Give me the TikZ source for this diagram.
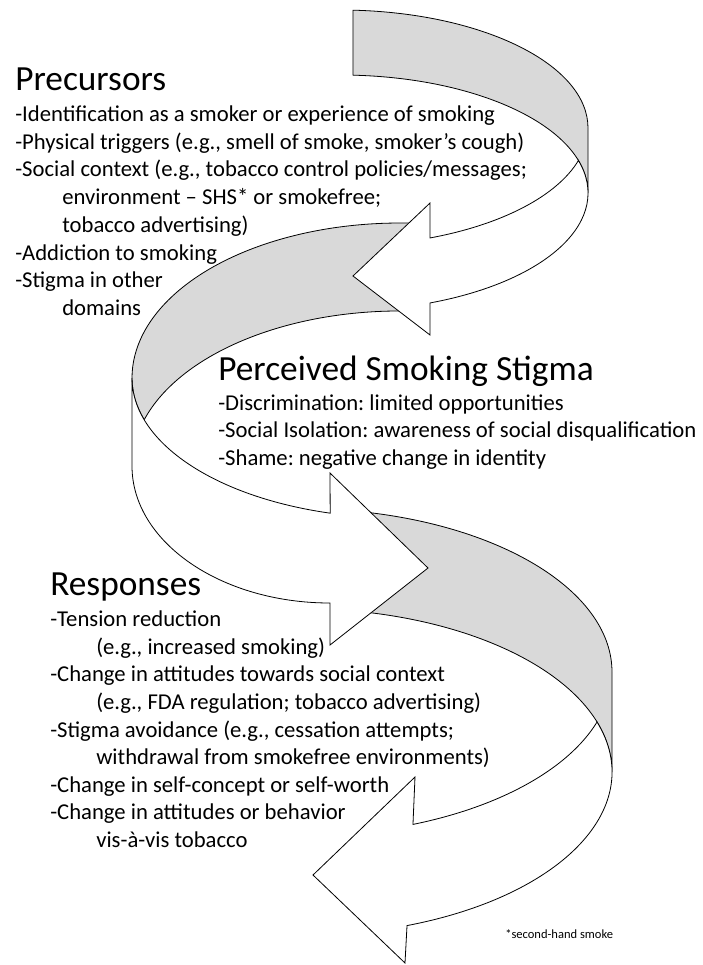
\documentclass[tikz,border=0pt]{standalone}
\usepackage{fontspec}
\setmainfont{Carlito}
\usetikzlibrary{calc}
\definecolor{backgray}{RGB}{217,217,217}
\frenchspacing
\begin{document}
\frenchspacing
\begin{tikzpicture}[x=0.75pt,y=-0.75pt,
  back/.style={fill=backgray,draw=black,line width=0.6pt,line join=round},
  front/.style={fill=white,draw=black,line width=0.6pt,line join=miter},
  head/.style={anchor=base west,inner sep=0pt,font=\fontsize{26.5}{30}\selectfont},
  body/.style={anchor=base west,inner sep=0pt,font=\fontsize{17}{20}\selectfont},
  note/.style={anchor=base west,inner sep=0pt,font=\fontsize{9.4}{11}\selectfont}]
\fill[white] (0,0) rectangle (703,965);
\useasboundingbox (0,0) rectangle (703,965);
% ellipse centres
\coordinate (o1t) at (340,128);
\coordinate (o1b) at (340,193);
\coordinate (o2t) at (400,378);
\coordinate (o2b) at (400,466);
\coordinate (o3t) at (300,672);
\coordinate (o3b) at (300,772);
% back (grey) parts
\filldraw[back] ($(o2t)+(-86.79:268 and 155)$) arc[start angle=-86.79,end angle=-180,x radius=268,y radius=155]
  arc[start angle=180,end angle=162.65,x radius=268,y radius=140]
  arc[start angle=-162.65,end angle=-86.79,x radius=268,y radius=155] -- cycle;
\filldraw[back] ($(o3t)+(-77.98:312 and 163.5)$) arc[start angle=-77.98,end angle=0,x radius=312,y radius=163.5]
  -- ($(o3b)+(0:312 and 163.5)$) arc[start angle=0,end angle=-77.98,x radius=312,y radius=163.5] -- cycle;
\filldraw[back] ($(o1t)+(-87:248 and 118)$) arc[start angle=-87,end angle=0,x radius=248,y radius=118]
  -- ($(o1b)+(0:248 and 118)$) arc[start angle=0,end angle=-87,x radius=248,y radius=118] -- cycle;
% front (white) parts with arrow heads
\filldraw[front] ($(o1t)+(16:248 and 118)$) arc[start angle=16,end angle=68.72,x radius=248,y radius=118]
  -- (430,203) -- (353,276) -- (430,335)
  -- ($(o1b)+(68.72:248 and 118)$) arc[start angle=68.72,end angle=-16,x radius=248,y radius=118] -- cycle;
\filldraw[front] ($(o2t)+(180:268 and 140)$) arc[start angle=180,end angle=105.1,x radius=268,y radius=140]
  -- (330,473) -- (428,568) -- (330,645) -- (330,603)
  arc[start angle=90,end angle=180,x radius=198,y radius=137] -- cycle;
\filldraw[front] ($(o3t)+(17.81:312 and 163.5)$) arc[start angle=17.81,end angle=68.77,x radius=312,y radius=163.5]
  -- (415,777) -- (313,875) -- (405,963)
  -- ($(o3b)+(69.94:312 and 163.5)$) arc[start angle=69.94,end angle=-17.81,x radius=312,y radius=163.5] -- cycle;
% Precursors
\node[head] (preh) at (15,90) {Precursors};
\node[body] (pre1) at (15,121.5) {-Identification as a smoker or experience of smoking};
\node[body] (pre2) at (15,149.2) {-Physical triggers (e.g., smell of smoke, smoker’s cough)};
\node[body] (pre3) at (15,176.9) {-Social context (e.g., tobacco control policies/messages;};
\node[body] (pre4) at (62,204.6) {environment – SHS* or smokefree;};
\node[body] (pre5) at (62,232.3) {tobacco advertising)};
\node[body] (pre6) at (15,260) {-Addiction to smoking};
\node[body] (pre7) at (15,287.7) {-Stigma in other};
\node[body] (pre8) at (62,315.4) {domains};
% Perceived Smoking Stigma
\node[head] (perh) at (218,380) {Perceived Smoking Stigma};
\node[body] (per1) at (218,410) {-Discrimination: limited opportunities};
\node[body] (per2) at (218,437.5) {-Social Isolation: awareness of social disqualification};
\node[body] (per3) at (218,465) {-Shame: negative change in identity};
% Responses
\node[head] (resh) at (50,595) {Responses};
\node[body] (res1) at (50,626.7) {-Tension reduction};
\node[body] (res2) at (96,654.3) {(e.g., increased smoking)};
\node[body] (res3) at (50,681.9) {-Change in attitudes towards social context};
\node[body] (res4) at (96,709.5) {(e.g., FDA regulation; tobacco advertising)};
\node[body] (res5) at (50,737.1) {-Stigma avoidance (e.g., cessation attempts;};
\node[body] (res6) at (96,764.7) {withdrawal from smokefree environments)};
\node[body] (res7) at (50,792.3) {-Change in self-concept or self-worth};
\node[body] (res8) at (50,819.9) {-Change in attitudes or behavior};
\node[body] (res9) at (96,847.5) {vis-à-vis tobacco};
% footnote
\node[note] (fn) at (505,938) {*second-hand smoke};
\end{tikzpicture}
\end{document}
